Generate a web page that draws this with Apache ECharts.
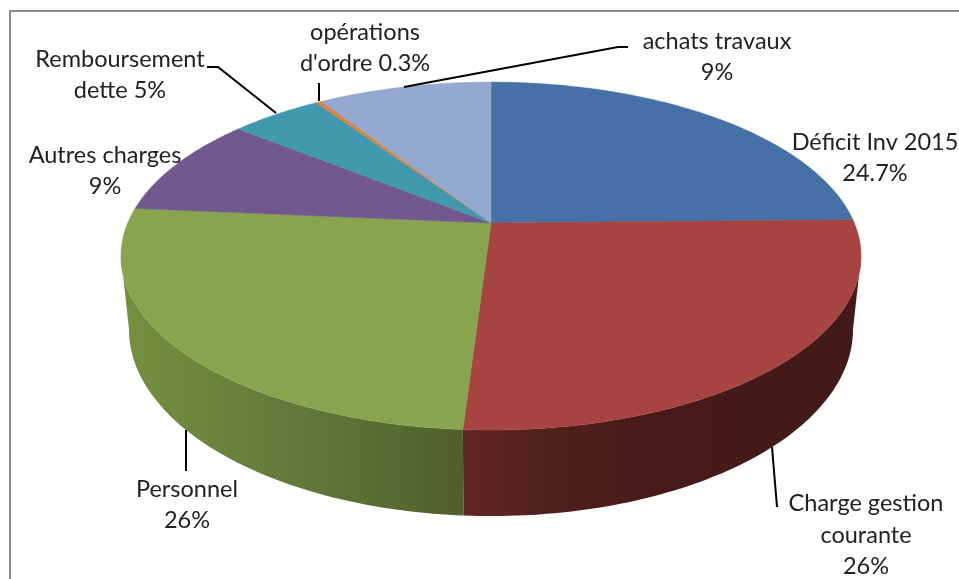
<!DOCTYPE html>
<html>
<head>
<meta charset="utf-8">
<title>Dépenses</title>
<style>
    html, body {margin: 0; padding: 0; background: #fff;}
    #chart {width: 959px; height: 579px;}
</style>
<script src="https://cdn.jsdelivr.net/npm/echarts@6/dist/echarts.min.js"></script>
</head>
<body>
<div id="chart"></div>
<script>
// 数据
var categories = ['Déficit Inv 2015', 'Charge gestion courante', 'Personnel', 'Autres charges', 'Remboursement dette', "opérations d'ordre", 'achats travaux'];
var shares = [24.7, 26.3, 25.4, 9.4, 4.8, 0.3, 9.1];
var labelTexts = ['Déficit Inv 2015\n24.7%', 'Charge gestion\ncourante\n26%', 'Personnel\n26%', 'Autres charges\n9%', 'Remboursement\ndette 5%', "opérations\nd'ordre 0.3%", 'achats travaux\n9%'];

// 样式
var topColors = ['#4571a7', '#a64442', '#89a44e', '#71588f', '#4198af', '#db843d', '#93a9cf'];
var wallStops = [
    null,
    [[0, '#622624'], [0.24, '#4f1e1c'], [0.47, '#461b19'], [1, '#431a18']],
    [[0, '#758e40'], [0.18, '#6f873d'], [0.5, '#64783a'], [0.8, '#586a2f'], [1, '#4f5f28']]
];
var wallRange = [null, [464, 862], [128, 464]];

// 透视饼图布局
var persp = 0.19;
var centerX = 491;
var topPlane = {cy: 223, a: 167.7, b: 363.3};
var bottomPlane = {cy: 294, a: 179.9, b: 355.4};
var labelPos = [[875, 158], [866, 535], [187, 505], [105, 171], [120, 75], [365, 48], [717, 57]];
var leaders = [
    [[404, 87], [618, 47], [628, 47]],
    [[207, 67], [218, 67], [276, 113]],
    [[319, 83], [319, 101]],
    [[186, 430], [186, 471]],
    [[772, 447], [777, 507]]
];

function project(plane, deg) {
    var rad = deg * Math.PI / 180;
    var X = Math.sin(rad), Y = Math.cos(rad);
    var w = 1 + persp * Y;
    return [centerX + plane.b * X / w, plane.cy - plane.a * Y / w];
}

function arcPoints(plane, from, to) {
    var pts = [];
    var n = Math.max(2, Math.ceil(Math.abs(to - from)));
    for (var i = 0; i <= n; i++) {
        pts.push(project(plane, from + (to - from) * i / n));
    }
    return pts;
}

// 累计角度
var sliceData = [];
var total = shares.reduce(function (a, b) { return a + b; }, 0);
var acc = 0;
shares.forEach(function (v, i) {
    var start = acc / total * 360;
    acc += v;
    sliceData.push({name: categories[i], value: [start, acc / total * 360, i]});
});

// 侧面只画正面可见的角度范围
var visibleFrom = Math.acos(-persp) * 180 / Math.PI;
var visibleTo = 360 - visibleFrom;

function renderTop(params, api) {
    var from = api.value(0), to = api.value(1), idx = api.value(2);
    var pts = [[centerX, topPlane.cy]].concat(arcPoints(topPlane, from, to));
    return {
        type: 'polygon',
        shape: {points: pts},
        style: {fill: topColors[idx], stroke: topColors[idx], lineWidth: 0.5}
    };
}

function renderWall(params, api) {
    var from = Math.max(api.value(0), visibleFrom);
    var to = Math.min(api.value(1), visibleTo);
    var idx = api.value(2);
    if (!wallStops[idx] || to <= from) {
        return null;
    }
    var pts = arcPoints(topPlane, from, to).concat(arcPoints(bottomPlane, from, to).reverse());
    return {
        type: 'polygon',
        shape: {points: pts},
        style: {
            fill: {
                type: 'linear',
                x: wallRange[idx][0], y: 0, x2: wallRange[idx][1], y2: 0,
                global: true,
                colorStops: wallStops[idx].map(function (s) {
                    return {offset: s[0], color: s[1]};
                })
            }
        }
    };
}

var graphics = [{
    type: 'polyline',
    shape: {points: [[10, 579], [10, 11], [959, 11]]},
    style: {fill: null, stroke: '#8c8c8c', lineWidth: 2}
}];
leaders.forEach(function (pts) {
    graphics.push({
        type: 'polyline',
        z: 10,
        shape: {points: pts},
        style: {fill: null, stroke: '#000', lineWidth: 2}
    });
});
labelTexts.forEach(function (txt, i) {
    graphics.push({
        type: 'text',
        z: 11,
        x: labelPos[i][0],
        y: labelPos[i][1],
        style: {
            text: txt,
            fill: '#222',
            font: '23.5px Lato, "Open Sans", sans-serif',
            lineHeight: 31.5,
            align: 'center',
            verticalAlign: 'middle'
        }
    });
});

var myChart = echarts.init(document.getElementById('chart'));
myChart.setOption({
    animation: false,
    backgroundColor: '#fff',
    graphic: graphics,
    series: [
        {type: 'custom', coordinateSystem: 'none', z: 1, silent: true, renderItem: renderWall, data: sliceData},
        {type: 'custom', coordinateSystem: 'none', z: 2, silent: true, renderItem: renderTop, data: sliceData}
    ]
});
</script>
</body>
</html>
